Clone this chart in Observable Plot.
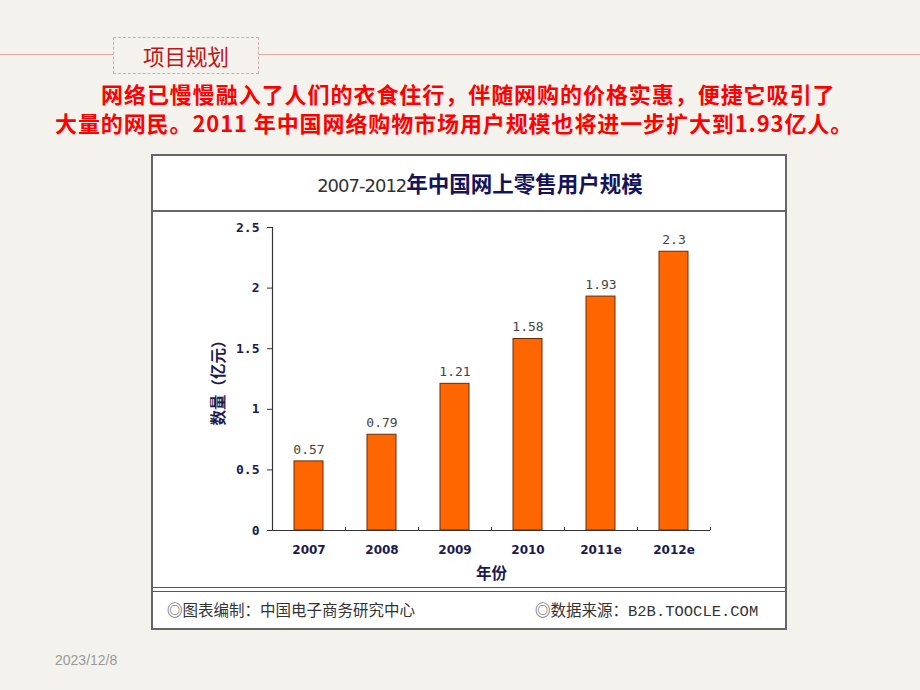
<!DOCTYPE html>
<html>
<head>
<meta charset="utf-8">
<script src="https://cdn.jsdelivr.net/npm/d3@7"></script>
<script src="https://cdn.jsdelivr.net/npm/@observablehq/plot@0.6"></script>
<style>
  html, body { margin: 0; padding: 0; }
  body { width: 920px; height: 690px; background: #f3f2ed; position: relative; overflow: hidden; font-family: "Noto Sans CJK SC", sans-serif; }
  .hline { position: absolute; left: 0; top: 54px; width: 920px; height: 0; border-top: 1.5px solid #e0a8a0; }
  .tag { position: absolute; left: 113px; top: 37px; width: 144px; height: 35px; border: 1px dashed #cfa9a9; background: #f3f2ed; color: #c0141a; font-size: 21.5px; line-height: 35px; text-align: center; }
  .para { position: absolute; left: 55px; color: #ff0000; font-weight: bold; font-size: 22px; line-height: 22px; white-space: nowrap; }
  .para div { position: absolute; left: 0; }
  .box { position: absolute; left: 151px; top: 154px; width: 632px; height: 472px; background: #fff; border: 2px solid #666; }
  .ctitle { position: absolute; left: 0; top: 0; width: 610px; padding-left: 22px; height: 54px; line-height: 54px; text-align: center; font-size: 20px; border-bottom: 2px solid #666; }
  .ctitle .n { color: #333; font-family: "DejaVu Sans", sans-serif; font-weight: normal; letter-spacing: -1px; font-size: 18px; }
  .ctitle .b { color: #14145a; font-weight: bold; font-size: 21.5px; }
  .footer { position: absolute; left: 0; top: 431px; width: 632px; height: 41px; border-top: 1px solid #555; }
  .footer::before { content: ""; position: absolute; left: 0; top: 3px; width: 632px; border-top: 1.5px solid #555; }
  .footer span { position: absolute; top: 10px; font-family: "Liberation Mono", "Noto Sans CJK SC", monospace; font-size: 15.5px; color: #333; }
  #chart { position: absolute; left: 151px; top: 210px; }
  .date { position: absolute; left: 55px; top: 652px; font-family: "Liberation Sans", Arial, sans-serif; font-size: 14px; color: #999; }
</style>
</head>
<body>
<div class="hline"></div>
<div class="tag">项目规划</div>
<div class="para">
  <div style="top:82px; left:46px; letter-spacing:0.95px">网络已慢慢融入了人们的衣食住行，伴随网购的价格实惠，便捷它吸引了</div>
  <div style="top:111px; letter-spacing:0.9px">大量的网民。2011 年中国网络购物市场用户规模也将进一步扩大到1.93亿人。</div>
</div>
<div class="box">
  <div class="ctitle"><span class="n">2007-2012</span><span class="b">年中国网上零售用户规模</span></div>
  <div class="footer">
    <span style="left:14px">◎图表编制：中国电子商务研究中心</span>
    <span style="left:382px">◎数据来源：B2B.TOOCLE.COM</span>
  </div>
</div>
<div id="chart"></div>
<div class="date">2023/12/8</div>
<script>
const years = ["2007", "2008", "2009", "2010", "2011e", "2012e"];
const users = [0.57, 0.79, 1.21, 1.58, 1.93, 2.3];
const valueLabels = ["0.57", "0.79", "1.21", "1.58", "1.93", "2.3"];
const yTicks = [0, 0.5, 1, 1.5, 2, 2.5];
const xLabel = "年份";
const yLabel = "数量（亿元）";

const data = years.map((y, i) => ({year: y, value: users[i], label: valueLabels[i]}));

const W = 632, H = 377;
const mL = 121, mR = W - 559, mT = 17, mB = H - 320;
const step = (W - mL - mR) / years.length;
const navy = "#1a1a4e";

const chart = Plot.plot({
  width: W,
  height: H,
  marginLeft: mL,
  marginRight: mR,
  marginTop: mT,
  marginBottom: mB,
  style: {background: "transparent", overflow: "visible"},
  x: {domain: years, paddingInner: 0.6, paddingOuter: 0.3},
  y: {domain: [0, 2.5]},
  marks: [
    Plot.barY(data, {x: "year", y: "value", fill: "#ff6600", stroke: "#6a2a08", strokeWidth: 1}),
    Plot.text(data, {x: "year", y: "value", text: "label", dy: -12, fill: "#444", fontSize: 13, fontFamily: "DejaVu Sans Mono, monospace"}),
    Plot.ruleY([0], {stroke: "#333", strokeWidth: 1.2}),
    Plot.ruleX([years[0]], {y1: 0, y2: 2.5, dx: -step / 2, stroke: "#333", strokeWidth: 1.2}),
    Plot.ruleX(years, {y1: 0, y2: 0.025, dx: step / 2, stroke: "#333"}),
    Plot.axisY({
      ticks: yTicks, tickSize: 5, tickPadding: 8,
      tickFormat: d => String(d),
      fontSize: 13, fontWeight: "bold", fontFamily: "DejaVu Sans Mono, monospace", fill: navy, stroke: "#333",
      label: yLabel, labelAnchor: "center", labelArrow: "none", labelOffset: 60
    }),
    Plot.axisX({
      tickSize: 0, tickPadding: 15,
      fontSize: 12, fontWeight: "bold", fontFamily: "DejaVu Sans, sans-serif", fill: navy,
      label: xLabel, labelAnchor: "center", labelArrow: "none", labelOffset: 48
    })
  ]
});

chart.querySelectorAll("[aria-label='y-axis label'] text, [aria-label='x-axis label'] text").forEach(t => {
  t.setAttribute("font-family", "Noto Sans CJK SC, sans-serif");
  t.setAttribute("font-weight", "bold");
  t.setAttribute("font-size", "15.5");
  t.setAttribute("fill", navy);
});
document.getElementById("chart").appendChild(chart);
</script>
</body>
</html>
